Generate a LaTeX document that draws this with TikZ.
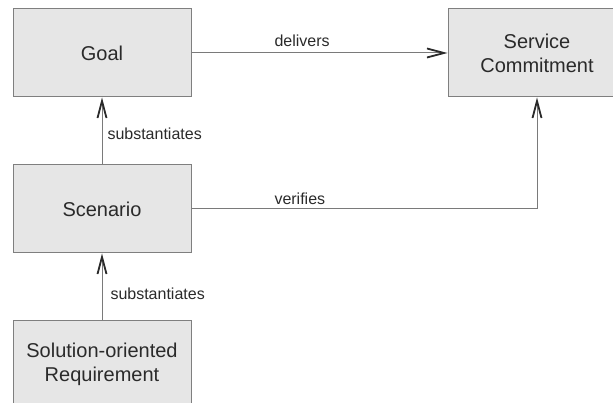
\documentclass[tikz,border=0pt]{standalone}
\usepackage{fontspec}
\setmainfont{Liberation Sans}
\usetikzlibrary{arrows.meta}

\definecolor{boxfill}{HTML}{E6E6E6}
\definecolor{boxline}{HTML}{7F7F7F}
\definecolor{linkline}{HTML}{7A7A7A}
\definecolor{tipline}{HTML}{2A2A2A}
\definecolor{txt}{HTML}{2A2A2A}

\tikzset{every picture/.style={line width=1pt}}
\tikzset{
  concept/.style={draw=boxline, fill=boxfill, minimum width=178pt, minimum height=88pt,
    inner sep=0pt, align=center, text=txt, font=\fontsize{20}{24}\selectfont},
  link/.style={draw=linkline, line width=1pt,
    -{Straight Barb[length=17pt,width=9pt,line width=1.8pt,color=tipline]}},
  linklabel/.style={text=txt, inner sep=0pt, font=\fontsize{16}{19}\selectfont}
}

\begin{document}
\begin{tikzpicture}[x=1pt,y=1pt,yscale=-1,xscale=1]
\useasboundingbox (0,0) rectangle (613,403);

% Concept boxes
\node [concept] (goal) at (102,53) {Goal};
\node [concept] (commitment) at (537,53) {Service\\Commitment};
\node [concept] (scenario) at (102,209) {Scenario};
\node [concept] (requirement) at (102,364) {Solution-oriented\\Requirement};

% Links
\draw [link] (goal) -- (commitment);
\draw [link] (scenario) -- (goal);
\draw [link] (scenario.east) -| (commitment.south);
\draw [link] (requirement) -- (scenario);

% Link labels
\node [linklabel, anchor=base west] (delivers) at (274,47) {delivers};
\node [linklabel, anchor=base west] (verifies) at (274,205) {verifies};
\node [linklabel, anchor=base west] (substgoal) at (107,140) {substantiates};
\node [linklabel, anchor=base west] (substscen) at (110,300) {substantiates};
\end{tikzpicture}
\end{document}
